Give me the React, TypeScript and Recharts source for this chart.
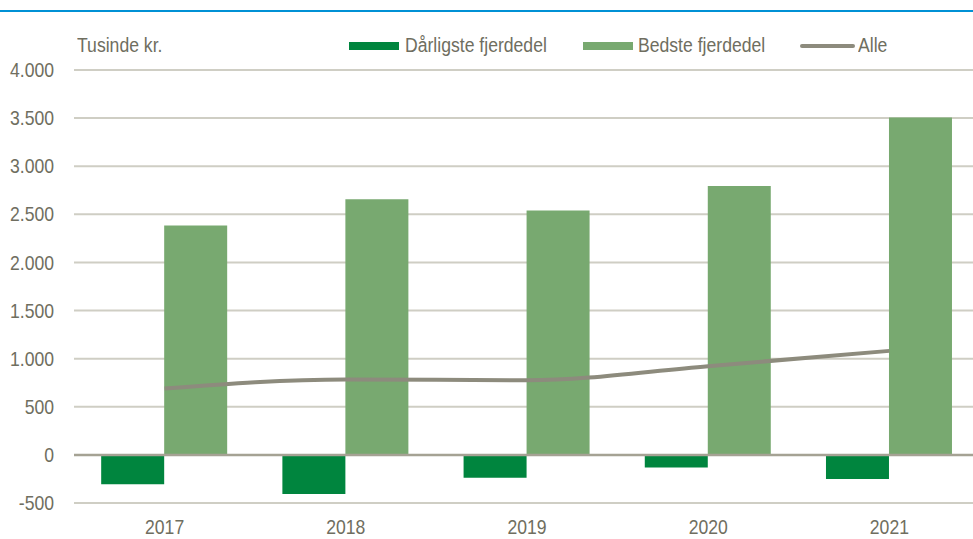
import {
  Bar,
  CartesianGrid,
  ComposedChart,
  Legend,
  Line,
  ReferenceLine,
  XAxis,
  YAxis,
} from "recharts";

const years = ["2017", "2018", "2019", "2020", "2021"];
const worstQuarter = [-306, -407, -238, -130, -251];
const bestQuarter = [2384, 2657, 2539, 2795, 3507];
const allFarms = [690, 784, 776, 922, 1081];
const yTicks = [-500, 0, 500, 1000, 1500, 2000, 2500, 3000, 3500, 4000];

// narrow look: Arial-like font squeezed horizontally
const FONT = "'Liberation Sans', Arial, sans-serif";
const SQUEEZE = 0.88;
const TEXT = "#6f6e60";
const DARK = "#00853e";
const LIGHT = "#78a970";
const GREY = "#8d8b7d";

const chartData = years.map((year, i) => ({
  year,
  worst: worstQuarter[i],
  best: bestQuarter[i],
  all: allFarms[i],
}));

const fmt = (v: number) => v.toLocaleString("da-DK").replace(/\u2212/, "-");

function NarrowTick(props: any) {
  const { x, y, payload, textAnchor, dy, tickFormatter } = props;
  const label = tickFormatter ? tickFormatter(payload.value) : payload.value;
  return (
    <g transform={`translate(${x},${y})`}>
      <text
        x={0}
        y={0}
        dy={dy}
        textAnchor={textAnchor}
        fill={TEXT}
        fontSize={20}
        fontFamily={FONT}
        transform={`scale(${SQUEEZE},1)`}
      >
        {label}
      </text>
    </g>
  );
}

function LegendBox() {
  const label = {
    position: "absolute" as const,
    top: 0,
    fontSize: 20,
    lineHeight: "24px",
    color: TEXT,
    fontFamily: FONT,
    whiteSpace: "nowrap" as const,
    transform: `scaleX(${SQUEEZE})`,
    transformOrigin: "left center",
  };
  return (
    <div style={{ position: "relative", width: 973, height: 24 }}>
      <span style={{ ...label, left: 77 }}>Tusinde kr.</span>
      <span style={{ position: "absolute", left: 349, top: 9, width: 50, height: 8, background: DARK }} />
      <span style={{ ...label, left: 405 }}>Dårligste fjerdedel</span>
      <span style={{ position: "absolute", left: 583, top: 9, width: 50, height: 8, background: LIGHT }} />
      <span style={{ ...label, left: 638 }}>Bedste fjerdedel</span>
      <span style={{ position: "absolute", left: 800, top: 11, width: 55, height: 4, borderRadius: 2, background: GREY }} />
      <span style={{ ...label, left: 858 }}>Alle</span>
    </div>
  );
}

export default function App() {
  return (
    <div style={{ position: "absolute", left: 0, top: 0, width: 973, height: 539, background: "#fff", overflow: "hidden" }}>
      <div style={{ position: "absolute", left: 0, top: 10, width: 973, height: 2, background: "#0091d5" }} />
      <ComposedChart
        width={973}
        height={539}
        data={chartData}
        margin={{ top: 70, right: -7, left: 0, bottom: 0 }}
        barCategoryGap="15%"
        barGap={0}
        style={{ fontFamily: FONT, overflow: "visible" }}
      >
        <CartesianGrid vertical={false} stroke="#cfcec4" strokeWidth={2} />
        <XAxis
          dataKey="year"
          height={36}
          axisLine={false}
          tickLine={false}
          tickSize={0}
          tickMargin={17}
          tick={<NarrowTick dy="0.71em" />}
        />
        <YAxis
          width={74}
          domain={[-500, 4000]}
          ticks={yTicks}
          interval={0}
          axisLine={false}
          tickLine={false}
          tickSize={0}
          tickMargin={20}
          tickFormatter={fmt}
          tick={<NarrowTick dy="0.355em" tickFormatter={fmt} />}
        />
        <ReferenceLine y={0} stroke="#a5a294" strokeWidth={2.5} />
        <Bar dataKey="worst" name="Dårligste fjerdedel" fill={DARK} isAnimationActive={false} />
        <Bar dataKey="best" name="Bedste fjerdedel" fill={LIGHT} isAnimationActive={false} />
        <Line
          type="monotone"
          dataKey="all"
          name="Alle"
          stroke={GREY}
          strokeWidth={4}
          dot={false}
          activeDot={false}
          isAnimationActive={false}
        />
        <Legend
          layout="horizontal"
          verticalAlign="middle"
          align="center"
          content={() => <LegendBox />}
          wrapperStyle={{ top: 33, left: 0, width: 973 }}
        />
      </ComposedChart>
    </div>
  );
}
